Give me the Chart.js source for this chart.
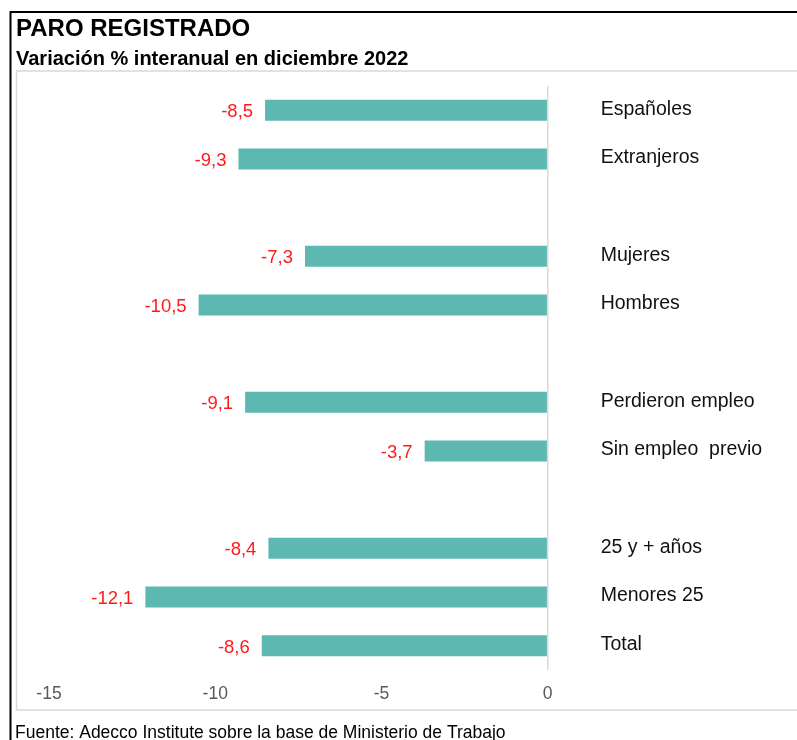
<!DOCTYPE html>
<html lang="es">
<head>
<meta charset="utf-8">
<title>Paro registrado</title>
<script src="https://cdn.jsdelivr.net/npm/chart.js"></script>
<style>
  html, body { margin: 0; padding: 0; background: #fff; }
  #wrap { position: relative; width: 797px; height: 740px; overflow: hidden; }
</style>
</head>
<body>
<div id="wrap"><canvas id="paroChart" width="797" height="740"></canvas></div>
<script>
// Datos (las filas vacías son los huecos entre grupos)
const categories = ['Españoles', 'Extranjeros', '', 'Mujeres', 'Hombres', '', 'Perdieron empleo', 'Sin empleo  previo', '', '25 y + años', 'Menores 25', 'Total'];
const values = [-8.5, -9.3, null, -7.3, -10.5, null, -9.1, -3.7, null, -8.4, -12.1, -8.6];
const xTicks = [-15, -10, -5, 0];

const title = 'PARO REGISTRADO';
const subtitle = 'Variación % interanual en diciembre 2022';
const source = 'Fuente: Adecco Institute sobre la base de Ministerio de Trabajo';

const FONT = '"Liberation Sans", Arial, sans-serif';

// Textos, marcos y etiquetas
const decor = {
    id: 'decor',
    beforeDraw(chart) {
        const c = chart.ctx;
        c.save();
        c.fillStyle = '#fff';
        c.fillRect(0, 0, chart.width, chart.height);
        // marco exterior negro
        c.strokeStyle = '#000';
        c.lineWidth = 2;
        c.beginPath();
        c.moveTo(10.5, 760);
        c.lineTo(10.5, 12);
        c.lineTo(820, 12);
        c.stroke();
        // marco interior gris
        c.strokeStyle = '#d9d9d9';
        c.lineWidth = 1.5;
        c.beginPath();
        c.moveTo(820, 71);
        c.lineTo(16.5, 71);
        c.lineTo(16.5, 710);
        c.lineTo(820, 710);
        c.stroke();

        c.fillStyle = '#000';
        c.textAlign = 'left';
        c.textBaseline = 'alphabetic';
        c.font = 'bold 24px ' + FONT;
        c.fillText(title, 16, 36);
        c.font = 'bold 20px ' + FONT;
        c.fillText(subtitle, 16, 65);
        c.font = '17.5px ' + FONT;
        c.fillText(source, 15, 738);
        c.restore();
    },
    afterDatasetsDraw(chart) {
        const c = chart.ctx;
        const x0 = chart.scales.x.getPixelForValue(0);
        const meta = chart.getDatasetMeta(0);
        c.save();
        c.textBaseline = 'middle';
        meta.data.forEach((bar, i) => {
            if (values[i] === null) return;
            c.font = '18.5px ' + FONT;
            c.fillStyle = '#ff1a1a';
            c.textAlign = 'right';
            c.fillText(values[i].toFixed(1).replace('.', ','), bar.x - 12, bar.y + 2);
            c.font = '19.5px ' + FONT;
            c.fillStyle = '#111';
            c.textAlign = 'left';
            c.fillText(categories[i], x0 + 53, bar.y - 1);
        });
        c.restore();
    }
};

new Chart(document.getElementById('paroChart'), {
    type: 'bar',
    data: {
        labels: categories,
        datasets: [{
            data: values,
            backgroundColor: '#5db8b2',
            borderWidth: 0,
            barPercentage: 0.43,
            categoryPercentage: 1
        }]
    },
    options: {
        indexAxis: 'y',
        responsive: false,
        animation: false,
        devicePixelRatio: 1,
        layout: { padding: { left: 49, right: 0, top: 86, bottom: 30 } },
        plugins: {
            legend: { display: false },
            tooltip: { enabled: false }
        },
        scales: {
            x: {
                min: -15,
                max: 7.5,
                afterBuildTicks: (s) => { s.ticks = xTicks.map(v => ({ value: v })); },
                afterFit: (s) => { s.height = 40; },
                border: { display: false },
                grid: {
                    drawTicks: false,
                    color: (ctx) => (ctx.tick && ctx.tick.value === 0 ? '#d9d9d9' : 'rgba(0,0,0,0)'),
                    lineWidth: 1.5
                },
                ticks: {
                    padding: 14,
                    color: '#595959',
                    font: { family: FONT, size: 17.5 }
                }
            },
            y: {
                display: false
            }
        }
    },
    plugins: [decor]
});
</script>
</body>
</html>
